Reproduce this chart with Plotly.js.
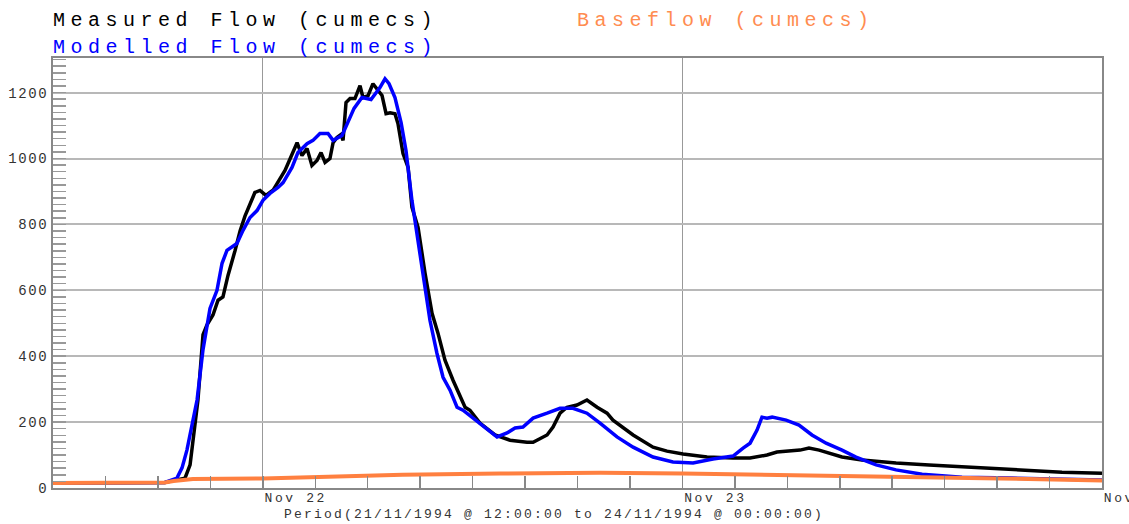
<!DOCTYPE html>
<html>
<head>
<meta charset="utf-8">
<script src="https://cdn.plot.ly/plotly-3.0.1.min.js"></script>
<style>
  html, body { margin: 0; padding: 0; background: #fff; }
  #chart { width: 1129px; height: 524px; }
  .annotation[data-index="0"] text,
  .annotation[data-index="1"] text,
  .annotation[data-index="2"] text { letter-spacing: 5.5px; }
  .annotation[data-index="3"] text { letter-spacing: 2.2px; }
  .xtick text { letter-spacing: 2.6px; }
  .ytick text { letter-spacing: 1.6px; }
</style>
</head>
<body>
<div id="chart"></div>
<script>
// Hours after 21/11/1994 12:00:00
const measuredHours = [0, 3, 6.4, 7.0, 7.55, 7.84, 8.12, 8.29, 8.58, 8.81, 9.15, 9.44, 9.72, 10.01, 10.41, 10.70, 10.98, 11.27, 11.55, 11.84, 12.18, 12.6, 13.27, 13.96, 14.24, 14.53, 14.81, 15.10, 15.33, 15.56, 15.84, 16.02, 16.24, 16.47, 16.59, 16.76, 16.99, 17.27, 17.56, 17.73, 18.02, 18.30, 18.59, 18.82, 19.05, 19.28, 19.56, 19.73, 20.02, 20.31, 20.53, 20.88, 21.28, 21.68, 22.02, 22.42, 22.88, 23.57, 23.85, 24.42, 25.28, 26.14, 27.11, 27.46, 28.26, 28.60, 29.00, 29.40, 29.97, 30.54, 31.12, 31.69, 32.03, 33.18, 34.32, 35.12, 36.04, 37.41, 38.90, 39.87, 40.84, 41.41, 42.73, 43.24, 43.82, 44.39, 45.13, 46.27, 48.22, 50.11, 51.99, 53.94, 55.83, 57.71, 60];
const measuredFlow = [15, 16, 17, 24, 30, 70, 206, 267, 465, 495, 525, 570, 580, 645, 720, 780, 825, 860, 897, 903, 888, 905, 964, 1048, 1009, 1030, 979, 994, 1018, 988, 1000, 1048, 1064, 1073, 1055, 1170, 1182, 1182, 1221, 1185, 1191, 1227, 1206, 1191, 1136, 1139, 1136, 1106, 1015, 973, 852, 791, 652, 530, 470, 388, 327, 245, 236, 197, 161, 145, 139, 139, 161, 185, 227, 245, 252, 267, 245, 227, 206, 161, 124, 112, 103, 94, 91, 91, 100, 109, 115, 121, 115, 106, 94, 85, 76, 70, 64, 58, 52, 48, 45];

const modelledHours = [0, 6.4, 7.09, 7.38, 7.66, 7.95, 8.24, 8.58, 8.98, 9.38, 9.67, 9.95, 10.52, 10.87, 11.27, 11.67, 12.01, 12.41, 12.87, 13.16, 13.67, 14.01, 14.53, 14.87, 15.27, 15.73, 16.02, 16.53, 16.82, 17.22, 17.67, 18.19, 18.70, 18.99, 19.22, 19.56, 19.91, 20.19, 20.53, 20.82, 21.11, 21.39, 21.56, 21.96, 22.31, 22.71, 23.11, 23.45, 24.42, 25.40, 25.97, 26.43, 26.88, 27.46, 28.26, 29.00, 29.74, 30.54, 31.29, 32.26, 33.18, 34.32, 35.46, 36.61, 37.75, 38.90, 39.47, 39.87, 40.27, 40.55, 40.84, 41.13, 41.93, 42.67, 43.41, 44.22, 45.13, 45.93, 47.08, 48.22, 49.71, 51.99, 54.85, 57.71, 60];
const modelledFlow = [15, 17, 30, 61, 115, 197, 267, 420, 545, 600, 682, 721, 742, 782, 821, 842, 873, 894, 912, 927, 973, 1018, 1045, 1055, 1076, 1076, 1055, 1070, 1106, 1152, 1185, 1179, 1215, 1242, 1227, 1185, 1109, 1024, 873, 773, 670, 579, 509, 409, 336, 297, 245, 236, 197, 155, 167, 182, 185, 212, 227, 242, 242, 227, 197, 155, 124, 94, 79, 76, 88, 97, 121, 136, 176, 215, 212, 215, 206, 191, 161, 136, 115, 94, 70, 55, 42, 33, 30, 27, 24];

const baseHours = [0, 6.4, 6.9, 8.0, 12.0, 20.0, 25.6, 31.3, 36.0, 42.8, 48.5, 54.2, 60];
const baseFlow = [15, 17, 21, 27, 29, 40, 44, 46, 44, 39, 34, 29, 23];

const seriesNames = ['Measured Flow (cumecs)', 'Modelled Flow (cumecs)', 'Baseflow (cumecs)'];
const periodLabel = 'Period(21/11/1994 @ 12:00:00 to 24/11/1994 @ 00:00:00)';
const yTickValues = [0, 200, 400, 600, 800, 1000, 1200];

const startMs = Date.UTC(1994, 10, 21, 12, 0, 0);
const toTime = hs => hs.map(h => startMs + h * 3600000);

const traces = [
  { x: toTime(measuredHours), y: measuredFlow, name: seriesNames[0], type: 'scatter', mode: 'lines',
    line: { color: '#000000', width: 3.5 } },
  { x: toTime(modelledHours), y: modelledFlow, name: seriesNames[1], type: 'scatter', mode: 'lines',
    line: { color: '#0000ff', width: 3.5 } },
  { x: toTime(baseHours), y: baseFlow, name: seriesNames[2], type: 'scatter', mode: 'lines',
    line: { color: '#ff8040', width: 4 } }
];

const mono = 'Liberation Mono, Courier New, monospace';
const tickFontX = { family: mono, size: 13, color: '#333333' };
const tickFontY = { family: mono, size: 14, color: '#333333' };
const legendFont = c => ({ family: mono, size: 20, color: c });

const layout = {
  width: 1129, height: 524,
  margin: { l: 53, r: 27, t: 58, b: 36 },
  paper_bgcolor: '#ffffff', plot_bgcolor: '#ffffff',
  showlegend: false,
  xaxis: {
    type: 'date',
    range: ['1994-11-21 12:00:00', '1994-11-24 00:00:00'],
    tick0: '1994-11-22 00:00:00', dtick: 86400000,
    tickformat: '%b %d',
    ticks: 'inside', ticklen: 12, tickwidth: 1.5, tickcolor: '#888888',
    ticklabelposition: 'outside right',
    ticklabeloverflow: 'allow',
    ticklabelstandoff: -4,
    tickfont: tickFontX,
    showgrid: true, gridcolor: '#999999', gridwidth: 1,
    showline: true, linecolor: '#888888', linewidth: 2, mirror: true,
    zeroline: false,
    minor: { dtick: 10800000, ticks: 'inside', ticklen: 12, tickwidth: 1.5, tickcolor: '#888888', showgrid: false },
    fixedrange: true
  },
  yaxis: {
    range: [0, 1305],
    tickmode: 'array', tickvals: yTickValues, ticktext: yTickValues.map(String),
    ticks: 'inside', ticklen: 13, tickwidth: 1.5, tickcolor: '#999999',
    tickfont: tickFontY,
    showgrid: true, gridcolor: '#b8b8b8', gridwidth: 2,
    showline: true, linecolor: '#888888', linewidth: 2, mirror: true,
    zeroline: false,
    minor: { dtick: 20, ticks: 'inside', ticklen: 13, tickwidth: 1.5, tickcolor: '#999999', showgrid: false },
    fixedrange: true
  },
  annotations: [
    { text: seriesNames[0], xref: 'paper', yref: 'paper', x: -0.002, y: 1.088, xanchor: 'left', yanchor: 'middle',
      align: 'left', showarrow: false, font: legendFont('#000000') },
    { text: seriesNames[2], xref: 'paper', yref: 'paper', x: 0.4975, y: 1.088, xanchor: 'left', yanchor: 'middle',
      align: 'left', showarrow: false, font: legendFont('#ff8c50') },
    { text: seriesNames[1], xref: 'paper', yref: 'paper', x: -0.002, y: 1.024, xanchor: 'left', yanchor: 'middle',
      align: 'left', showarrow: false, font: legendFont('#0000ff') },
    { text: periodLabel, xref: 'paper', yref: 'paper', x: 0.2183, y: -0.062, xanchor: 'left', yanchor: 'middle',
      align: 'left', showarrow: false, font: { family: mono, size: 13, color: '#333333' } }
  ]
};

Plotly.newPlot('chart', traces, layout, { displayModeBar: false, staticPlot: true });
</script>
</body>
</html>
